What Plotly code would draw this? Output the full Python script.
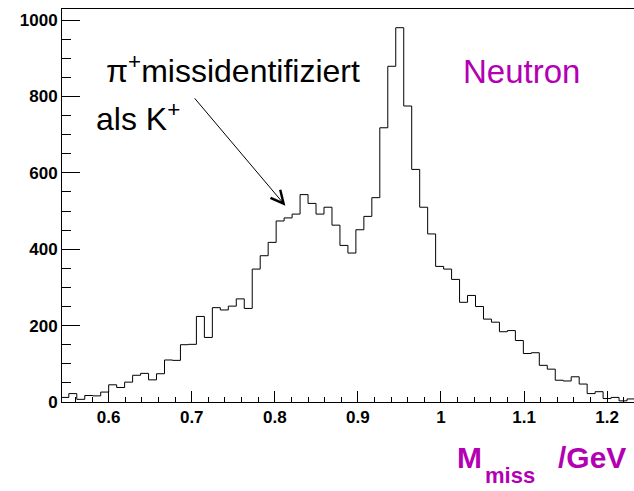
import numpy as np
import plotly.graph_objects as go

# Missing-mass spectrum (counts per bin), fixed-width binning
bin_low = 0.5424
bin_width = 0.0096
counts = [
    12, 22, 7, 17, 16, 26, 45, 38, 52, 70,
    75, 58, 74, 110, 109, 150, 151, 224, 169, 247,
    241, 251, 270, 245, 348, 383, 418, 474, 482, 492,
    543, 520, 492, 510, 463, 410, 390, 451, 486, 535,
    718, 879, 980, 775, 609, 510, 440, 355, 348, 321,
    261, 279, 250, 217, 209, 184, 187, 161, 127, 129,
    96, 86, 57, 55, 66, 47, 22, 27, 9, 12,
    3, 8,
]

x_tick_vals = [0.6, 0.7, 0.8, 0.9, 1.0, 1.1, 1.2]
x_tick_text = ["0.6", "0.7", "0.8", "0.9", "1", "1.1", "1.2"]
y_tick_vals = [0, 200, 400, 600, 800, 1000]
y_tick_text = ["0", "200", "400", "600", "800", "1000"]

x_range = [0.5438, 1.2324]
y_range = [0, 1029]

MAGENTA = "#b300b3"
FONT = "Liberation Sans"

edges = bin_low + bin_width * np.arange(len(counts) + 1)
step_y = counts + [counts[-1]]

fig = go.Figure(
    go.Scatter(
        x=edges,
        y=step_y,
        mode="lines",
        line=dict(shape="hv", color="black", width=1),
        hoverinfo="skip",
    )
)

tickfont = dict(family=FONT, size=17, color="black", weight="bold")

fig.update_layout(
    width=634,
    height=491,
    margin=dict(l=62, r=0, t=9, b=89),
    paper_bgcolor="white",
    plot_bgcolor="white",
    showlegend=False,
    xaxis=dict(
        range=x_range,
        showline=True,
        linecolor="black",
        linewidth=1,
        mirror=True,
        showgrid=False,
        zeroline=False,
        ticks="inside",
        ticklen=11,
        tickwidth=1,
        tickcolor="black",
        tickmode="array",
        tickvals=x_tick_vals,
        ticktext=x_tick_text,
        tickfont=tickfont,
        minor=dict(ticks="inside", ticklen=5, tickwidth=1, tickcolor="black",
                   tick0=0, dtick=0.02, showgrid=False),
    ),
    yaxis=dict(
        range=y_range,
        showline=True,
        linecolor="black",
        linewidth=1,
        mirror=False,
        showgrid=False,
        zeroline=False,
        ticks="inside",
        ticklen=18,
        tickwidth=1,
        tickcolor="black",
        tickmode="array",
        tickvals=y_tick_vals,
        ticktext=y_tick_text,
        tickfont=tickfont,
        minor=dict(ticks="inside", ticklen=9, tickwidth=1, tickcolor="black",
                   tick0=0, dtick=50, showgrid=False),
    ),
)

# Labels inside the frame
fig.add_annotation(x=0.594, y=872, xref="x", yref="y", xanchor="left", yanchor="middle",
                   text="π<sup>+</sup>missidentifiziert", showarrow=False,
                   font=dict(family=FONT, size=32, color="black"))
fig.add_annotation(x=0.582, y=745, xref="x", yref="y", xanchor="left", yanchor="middle",
                   text="als K<sup>+</sup>", showarrow=False,
                   font=dict(family=FONT, size=32, color="black"))
fig.add_annotation(x=1.0237, y=865, xref="x", yref="y", xanchor="left", yanchor="middle",
                   text="Neutron", showarrow=False,
                   font=dict(family=FONT, size=33, color=MAGENTA))

# Arrow pointing at the misidentified-pion bump
fig.add_annotation(x=0.8127, y=514, xref="x", yref="y",
                   ax=0.702, ay=799, axref="x", ayref="y",
                   text="", showarrow=True, arrowhead=5, arrowsize=2.5,
                   arrowwidth=1, arrowcolor="black")

# Axis title: M_miss /GeV
fig.add_annotation(x=(455 - 62) / 572, y=-0.141, xref="paper", yref="paper",
                   xanchor="left", yanchor="middle", text="M", showarrow=False,
                   font=dict(family=FONT, size=30, color=MAGENTA, weight="bold"))
fig.add_annotation(x=(484 - 62) / 572, y=-0.188, xref="paper", yref="paper",
                   xanchor="left", yanchor="middle", text="miss", showarrow=False,
                   borderpad=0,
                   font=dict(family=FONT, size=22, color=MAGENTA, weight="bold"))
fig.add_annotation(x=(556 - 62) / 572, y=-0.141, xref="paper", yref="paper",
                   xanchor="left", yanchor="middle", text="/GeV", showarrow=False,
                   font=dict(family=FONT, size=30, color=MAGENTA, weight="bold"))

fig.write_html("out.html")
